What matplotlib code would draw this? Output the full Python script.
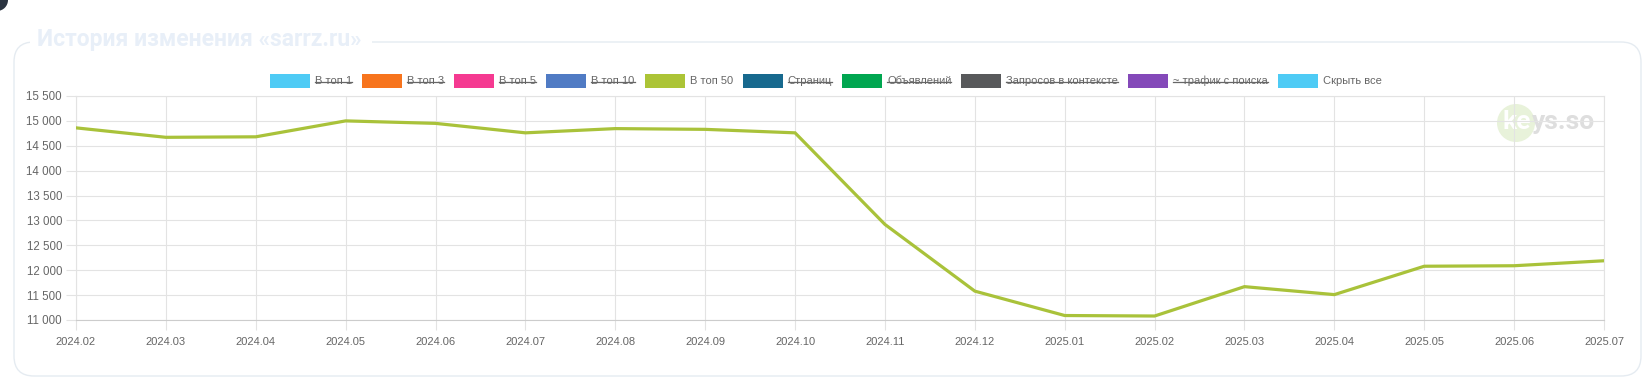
import matplotlib.pyplot as plt
from matplotlib.patches import FancyBboxPatch, Circle, Rectangle
from matplotlib.lines import Line2D
from matplotlib.ticker import FuncFormatter

plt.rcParams["font.family"] = ["Liberation Sans", "DejaVu Sans"]

months = ["2024.02", "2024.03", "2024.04", "2024.05", "2024.06", "2024.07",
          "2024.08", "2024.09", "2024.10", "2024.11", "2024.12", "2025.01",
          "2025.02", "2025.03", "2025.04", "2025.05", "2025.06", "2025.07"]
top50 = [14860, 14670, 14680, 15000, 14950, 14760, 14845, 14830, 14760,
         12920, 11580, 11090, 11080, 11670, 11510, 12080, 12090, 12190]

legend_labels = ["В топ 1", "В топ 3", "В топ 5", "В топ 10", "В топ 50", "Страниц",
                 "Объявлений", "Запросов в контексте", "~ трафик с поиска", "Скрыть все"]
legend_colors = ["#4ecbf5", "#f7741d", "#f53a91", "#507bc4", "#acc436", "#17698e",
                 "#00a650", "#58595b", "#8449b9", "#4ecbf5"]
legend_hidden = [True, True, True, True, False, True, True, True, True, False]

W, H = 1649, 392
fig = plt.figure(figsize=(W / 100, H / 100), dpi=100)
fig.patch.set_facecolor("#FFFFFF")

# background layer in pixel coordinates (y down)
bg = fig.add_axes([0, 0, 1, 1], zorder=0)
bg.set_xlim(0, W)
bg.set_ylim(H, 0)
bg.axis("off")

bg.add_patch(FancyBboxPatch((14, 42), 1627, 334, boxstyle="round,pad=0,rounding_size=20",
                            linewidth=1, edgecolor="#e5ebf1", facecolor="#FFFFFF"))
bg.add_patch(Rectangle((30, 30), 342, 22, facecolor="#FFFFFF", edgecolor="none"))
bg.text(37, 39, "История изменения «sarrz.ru»", fontsize=16.5, fontweight="bold",
        color="#e8eff8", family=["Roboto", "DejaVu Sans"], ha="left", va="center")
bg.add_patch(Circle((-3, 0), 11, facecolor="#2b3441", edgecolor="none"))

fig.canvas.draw()
renderer = fig.canvas.get_renderer()

# watermark: "ke" white over the green circle, rest light grey
bg.add_patch(Circle((1516, 123), 19, facecolor="#e8f2da", edgecolor="none", zorder=2))
wm_kw = dict(fontsize=19, fontweight="bold", family=["Roboto", "DejaVu Sans"],
             ha="left", va="baseline")
ke = bg.text(1503, 129, "ke", color="#FFFFFF", zorder=4, **wm_kw)
ke_w = ke.get_window_extent(renderer).width
bg.text(1503 + ke_w, 129, "ys.so", color="#dedede", zorder=3, **wm_kw)

# legend
box_w, box_h, gap_in, gap_out = 40, 14, 5, 10
widths = []
for lab in legend_labels:
    t = bg.text(0, 0, lab, fontsize=8, color="#666666")
    widths.append(t.get_window_extent(renderer).width)
    t.remove()
total = sum(box_w + gap_in + w for w in widths) + gap_out * (len(widths) - 1)
x = 826 - total / 2
ly = 81
for lab, col, hid, w in zip(legend_labels, legend_colors, legend_hidden, widths):
    bg.add_patch(Rectangle((x, ly - box_h / 2), box_w, box_h, facecolor=col, edgecolor="none"))
    tx = x + box_w + gap_in
    bg.text(tx, ly, lab, fontsize=8, color="#666666", ha="left", va="center")
    if hid:
        bg.add_line(Line2D([tx, tx + w], [ly + 0.5, ly + 0.5], color="#666666", linewidth=0.9))
    x = tx + w + gap_out

# chart
ax = fig.add_axes([76 / W, 1 - 320 / H, (1604 - 76) / W, (320 - 96) / H], zorder=1)
ax.patch.set_alpha(0)
ax.plot(range(len(months)), top50, color="#a9c23a", linewidth=2.3, solid_joinstyle="miter", zorder=3)
ax.set_xlim(0, len(months) - 1)
ax.set_ylim(11000, 15500)
ax.set_xticks(range(len(months)))
ax.set_xticklabels(months)
ax.set_yticks(range(11000, 15501, 500))
ax.yaxis.set_major_formatter(FuncFormatter(lambda v, p: f"{int(v):,}".replace(",", " ")))
ax.grid(True, color="#e3e3e3", linewidth=0.8)
for s in ax.spines.values():
    s.set_color("#e3e3e3")
    s.set_linewidth(0.8)
ax.spines["bottom"].set_color("#cccccc")
ax.tick_params(axis="both", length=7, width=0.8, color="#e3e3e3", labelsize=8, labelcolor="#666666")
ax.tick_params(axis="x", pad=5)
ax.tick_params(axis="y", labelsize=8.3, pad=3)

fig.savefig("out.png", dpi=100, facecolor=fig.get_facecolor())
